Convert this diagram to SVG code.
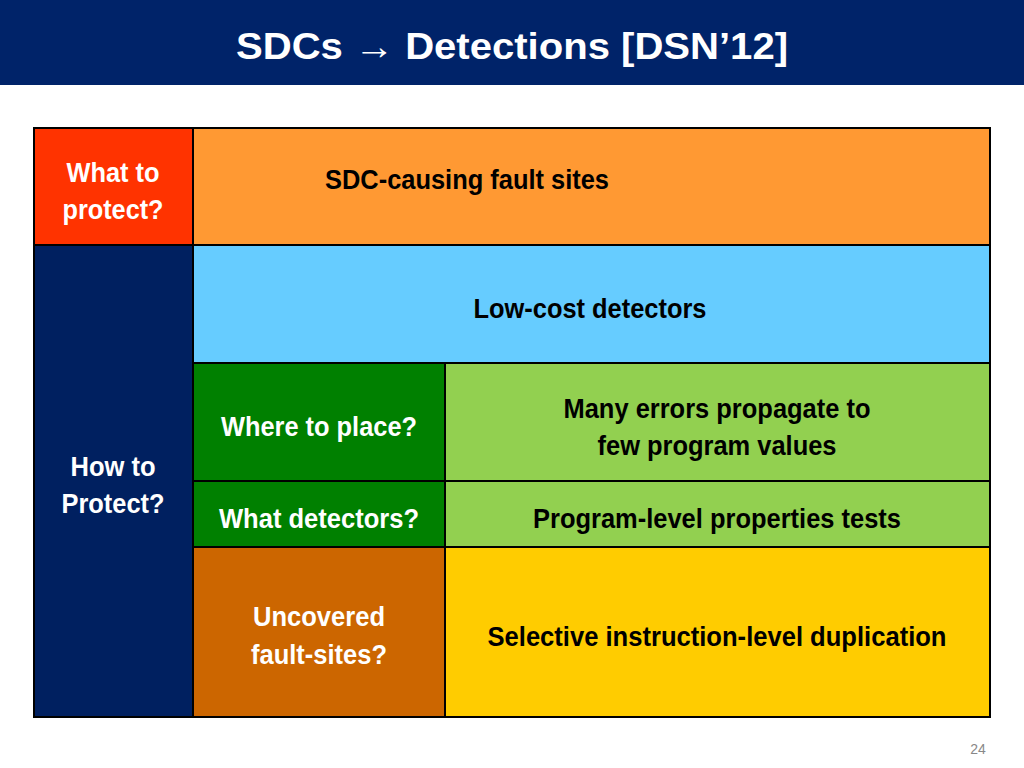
<svg xmlns="http://www.w3.org/2000/svg" width="1024" height="768" viewBox="0 0 1024 768">
<style>
.c{stroke:#000;stroke-width:2}
.t{font-family:"Liberation Sans",Arial,sans-serif;font-weight:bold;font-size:28px;text-anchor:middle}
.w{fill:#fff}.k{fill:#000}
</style>
<rect width="1024" height="768" fill="#fff"/>
<rect x="0" y="0" width="1024" height="85" fill="#002369"/>
<text x="512" y="59" class="t w" style="font-size:37px" textLength="552" lengthAdjust="spacingAndGlyphs">SDCs → Detections [DSN’12]</text>
<g id="what-protect"><rect class="c" x="34" y="128" width="159" height="117" fill="#FF3300"/>
<text class="t w" x="113" y="182" textLength="93" lengthAdjust="spacingAndGlyphs">What to</text>
<text class="t w" x="113" y="219" textLength="101" lengthAdjust="spacingAndGlyphs">protect?</text></g>
<g id="sdc-sites"><rect class="c" x="193" y="128" width="797" height="117" fill="#FF9933"/>
<text class="t k" x="467" y="189" textLength="284" lengthAdjust="spacingAndGlyphs">SDC-causing fault sites</text></g>
<g id="how-protect"><rect class="c" x="34" y="245" width="159" height="472" fill="#002060"/>
<text class="t w" x="113" y="476" textLength="85" lengthAdjust="spacingAndGlyphs">How to</text>
<text class="t w" x="113" y="513" textLength="103" lengthAdjust="spacingAndGlyphs">Protect?</text></g>
<g id="low-cost"><rect class="c" x="193" y="245" width="797" height="118" fill="#66CCFF"/>
<text class="t k" x="590" y="318" textLength="233" lengthAdjust="spacingAndGlyphs">Low-cost detectors</text></g>
<g id="where"><rect class="c" x="193" y="363" width="252" height="118" fill="#008000"/>
<text class="t w" x="319" y="436" textLength="196" lengthAdjust="spacingAndGlyphs">Where to place?</text></g>
<g id="many-errors"><rect class="c" x="445" y="363" width="545" height="118" fill="#92D050"/>
<text class="t k" x="717" y="418" textLength="307" lengthAdjust="spacingAndGlyphs">Many errors propagate to</text>
<text class="t k" x="717" y="455" textLength="239" lengthAdjust="spacingAndGlyphs">few program values</text></g>
<g id="what-detectors"><rect class="c" x="193" y="481" width="252" height="66" fill="#008000"/>
<text class="t w" x="319" y="528" textLength="200" lengthAdjust="spacingAndGlyphs">What detectors?</text></g>
<g id="program-level"><rect class="c" x="445" y="481" width="545" height="66" fill="#92D050"/>
<text class="t k" x="717" y="528" textLength="368" lengthAdjust="spacingAndGlyphs">Program-level properties tests</text></g>
<g id="uncovered"><rect class="c" x="193" y="547" width="252" height="170" fill="#CC6600"/>
<text class="t w" x="319" y="626" textLength="132" lengthAdjust="spacingAndGlyphs">Uncovered</text>
<text class="t w" x="319" y="664" textLength="136" lengthAdjust="spacingAndGlyphs">fault-sites?</text></g>
<g id="selective"><rect class="c" x="445" y="547" width="545" height="170" fill="#FFCC00"/>
<text class="t k" x="717" y="646" textLength="459" lengthAdjust="spacingAndGlyphs">Selective instruction-level duplication</text></g>
<g id="connectors"></g>
<text x="978" y="754" style="font-family:'Liberation Sans',Arial,sans-serif;font-size:14px;fill:#888;text-anchor:middle">24</text>
</svg>
